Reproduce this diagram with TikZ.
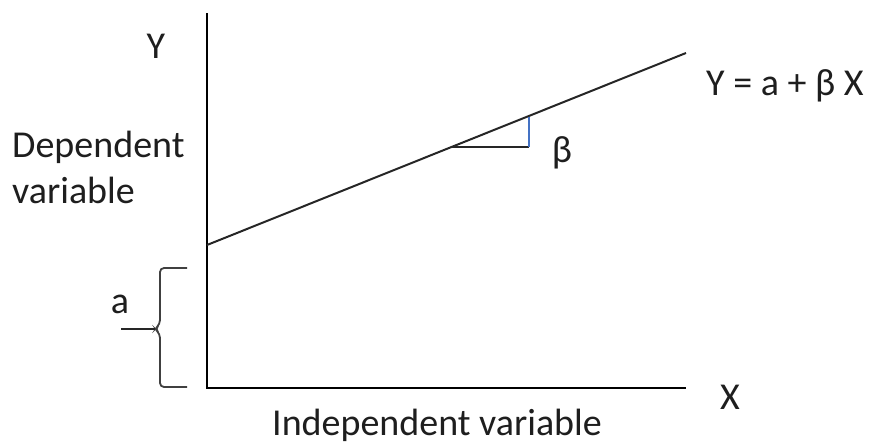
\documentclass[tikz,border=0pt]{standalone}
\usepackage{fontspec}
\setmainfont{Carlito}
\definecolor{offblue}{RGB}{68,114,196}
\definecolor{txt}{RGB}{30,30,30}
\begin{document}
\begin{tikzpicture}[x=1pt,y=-1pt,
  lbl/.style={inner sep=0pt,text=txt,font=\fontsize{38}{44}\selectfont},
  axis/.style={draw=black,line width=2.2pt},
  reg/.style={draw=black!85,line width=2pt}]
\useasboundingbox (0,0) rectangle (878,445);
\coordinate (O) at (207,388);
\coordinate (Ytop) at (207,13);
\coordinate (Xend) at (686,388);
\coordinate (L0) at (207,245);
\coordinate (L1) at (686,53);
\coordinate (T1) at (452,147);
\coordinate (T2) at (529,147);
\coordinate (T3) at (529,116.5);
\draw[axis] (Ytop) -- (O) -- (Xend);
\draw[reg] (L0) -- (L1);
\draw[draw=black!85,line width=1.8pt] (T1) -- (T2);
\draw[draw=offblue,line width=1.6pt] (T2) -- (T3);
% brace
\coordinate (B1) at (187,268);
\coordinate (Btip) at (155,329);
\coordinate (B2) at (187,387);
\coordinate (Tk) at (121,329);
\draw[line width=1.8pt,draw=black!75,rounded corners=4pt] (B1) -- (160,268) -- (160,324) -- (Btip) -- (160,334) -- (160,387) -- (B2);
\draw[line width=2.8pt,draw=black!85] (Tk) -- (Btip);
% labels
\node[lbl,anchor=base] (ylab) at (156,58) {Y};
\node[lbl,anchor=base west] (dep1) at (12,157) {Dependent};
\node[lbl,anchor=base west] (dep2) at (12,203) {variable};
\node[lbl,anchor=base] (alab) at (120,313) {a};
\node[lbl,anchor=base] (blab) at (562,162) {β};
\node[lbl,anchor=base west] (eq) at (706,95) {Y = a + β X};
\node[lbl,anchor=base] (xlab) at (730,409) {X};
\node[lbl,anchor=base] (indep) at (437,435) {Independent variable};
\end{tikzpicture}
\end{document}
